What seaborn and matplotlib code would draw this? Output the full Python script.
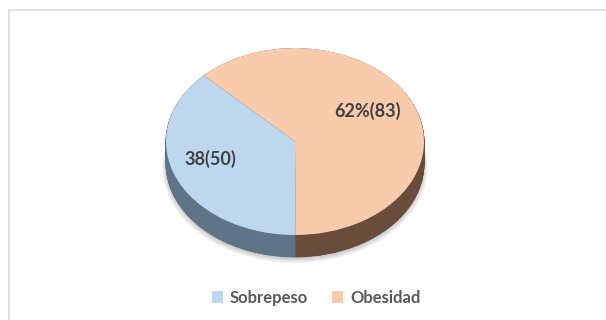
import matplotlib
matplotlib.use("Agg")
import matplotlib.pyplot as plt
import seaborn as sns
from matplotlib.lines import Line2D

# ---- data ----
categories = ["Sobrepeso", "Obesidad"]
counts = [50, 83]
value_labels = ["38(50)", "62%(83)"]
top_colors = ["#BDD7EE", "#F8CBAD"]
side_colors = ["#5F7487", "#6A4C3B"]

sns.set_theme(style="white")
plt.rcParams['font.family'] = ['Lato', 'DejaVu Sans']

W, H = 606, 320
fig = plt.figure(figsize=(W / 100, H / 100), dpi=100)
ax = fig.add_axes([0, 0, 1, 1])

# geometry (pixels)
cx, cy = 295, 141.5
a, b = 129, 93.5
depth = 22
start = 135

# soft shadow
for k in range(6):
    ax.pie(counts, colors=['#000000', '#000000'], startangle=start,
           center=(0, -(depth + 1.5 + k * 0.4) / b), radius=1.0 + k * 0.006,
           wedgeprops=dict(linewidth=0, alpha=0.035))

nlayers = 40
for k in range(nlayers, 0, -1):
    off = depth / b * k / nlayers
    ax.pie(counts, colors=side_colors, startangle=start, center=(0, -off),
           radius=1, wedgeprops=dict(linewidth=0.6))
    for p in ax.patches[-2:]:
        p.set_edgecolor(p.get_facecolor())
wedges, _ = ax.pie(counts, colors=top_colors, startangle=start, center=(0, 0),
                   radius=1, wedgeprops=dict(linewidth=0))

ax.set_aspect('auto')
ax.set_xlim(-cx / a, (W - cx) / a)
ax.set_ylim(-(H - cy) / b, cy / b)
ax.axis('off')

label_pos = [(-0.66, -0.19), (0.56, 0.33)]
for (x, y), t in zip(label_pos, value_labels):
    ax.text(x, y, t, ha='center', va='center', fontsize=13,
            fontweight='bold', color='#404040')

leg = fig.legend(wedges, categories, loc='center',
                 bbox_to_anchor=(316 / W, 1 - 298 / H), ncol=2, frameon=False,
                 handlelength=0.7, handleheight=0.7, handletextpad=0.4,
                 columnspacing=1.4, prop=dict(weight='bold', size=12))
for t in leg.get_texts():
    t.set_color('#595959')

# chart border (top and left visible)
fig.add_artist(Line2D([8.5 / W, 1.0], [1 - 9.5 / H, 1 - 9.5 / H],
                      transform=fig.transFigure, color='#D9D9D9', lw=1.2))
fig.add_artist(Line2D([8.5 / W, 8.5 / W], [0, 1 - 9.5 / H],
                      transform=fig.transFigure, color='#D9D9D9', lw=1.2))

fig.savefig("out.png", dpi=100, facecolor='white')
